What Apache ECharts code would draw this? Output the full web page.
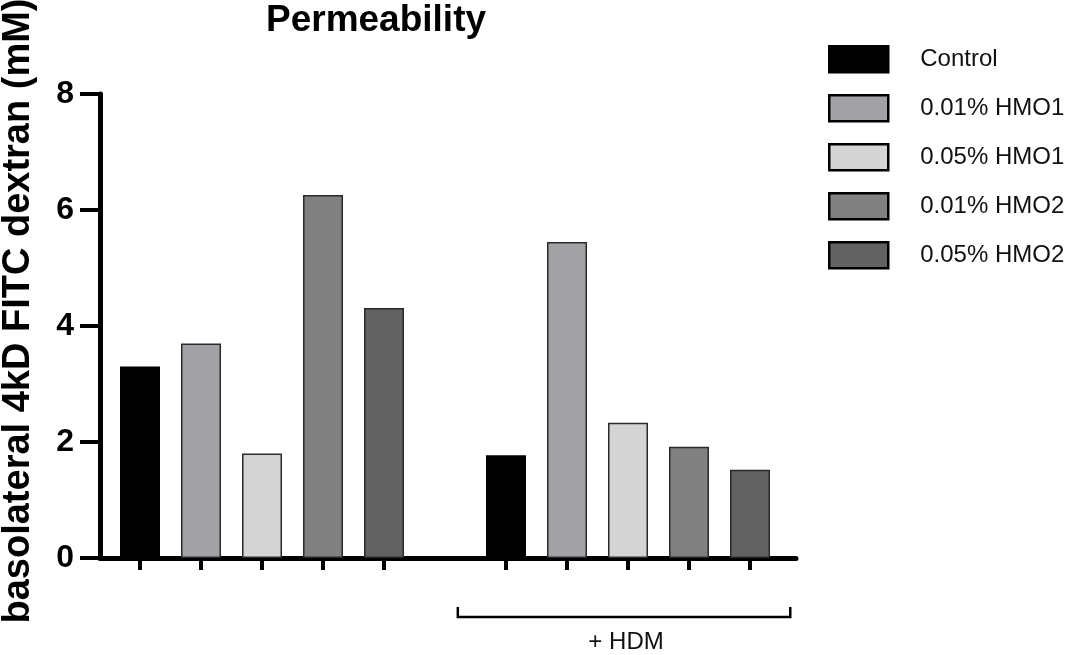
<!DOCTYPE html>
<html>
<head>
<meta charset="utf-8">
<title>Permeability</title>
<script src="https://cdn.jsdelivr.net/npm/echarts@6/dist/echarts.min.js"></script>
<style>
  html, body { margin: 0; padding: 0; background: #fff; }
  #chart { width: 1070px; height: 655px; }
</style>
</head>
<body>
<div id="chart"></div>
<script>
// Treatment groups (one series each) and their colours
const treatments = ['Control', '0.01% HMO1', '0.05% HMO1', '0.01% HMO2', '0.05% HMO2'];
const colors = ['#000000', '#a2a1a6', '#d4d4d4', '#808080', '#626262'];

// Basolateral 4kD FITC dextran (mM), without and with HDM
const withoutHDM = [3.30, 3.70, 1.80, 6.26, 4.31];
const withHDM = [1.77, 5.45, 2.33, 1.92, 1.52];

// Y axis range
const yMin = 0, yMax = 8, yStep = 2;

const titleText = 'Permeability';
const yName = 'basolateral 4kD FITC dextran (mM)';
const groupLabel = '+ HDM';

// Slot index of each bar on the x axis: first block 1..5, one empty slot, second block 7..11
const slotA = treatments.map((_, i) => i + 1);
const slotB = treatments.map((_, i) => i + 7);

const chart = echarts.init(document.getElementById('chart'));

const series = treatments.map((name, i) => ({
  name,
  type: 'bar',
  barWidth: 40,
  barGap: '-100%',
  itemStyle: {
    color: colors[i],
    borderColor: i === 0 ? '#000' : '#2a2a2a',
    borderWidth: 1.5
  },
  emphasis: { disabled: true },
  data: [[slotA[i], withoutHDM[i]], [slotB[i], withHDM[i]]]
}));

chart.setOption({
  animation: false,
  backgroundColor: '#fff',
  title: {
    text: titleText,
    left: 376,
    top: 2,
    padding: 0,
    textAlign: 'center',
    textStyle: {
      fontFamily: 'Liberation Sans, Arial, sans-serif',
      fontWeight: 'bold',
      fontSize: 37,
      color: '#000'
    }
  },
  legend: {
    orient: 'vertical',
    left: 828,
    top: 45,
    padding: 0,
    itemWidth: 59,
    itemHeight: 26,
    itemGap: 20.5,
    icon: 'rect',
    selectedMode: false,
    itemStyle: { borderColor: '#000', borderWidth: 2.5 },
    textStyle: {
      fontFamily: 'Liberation Sans, Arial, sans-serif',
      fontSize: 24,
      color: '#111',
      padding: [0, 0, 0, 27]
    },
    data: treatments
  },
  grid: { left: 100, right: 274, top: 94, bottom: 97, containLabel: false },
  xAxis: {
    type: 'value',
    min: 0.344,
    max: 11.754,
    axisLine: { show: true, onZero: false, lineStyle: { color: '#000', width: 5 } },
    axisTick: {
      show: true,
      inside: false,
      length: 12,
      customValues: slotA.concat(slotB),
      lineStyle: { color: '#000', width: 4 }
    },
    axisLabel: { show: false },
    splitLine: { show: false }
  },
  yAxis: {
    type: 'value',
    min: yMin,
    max: yMax,
    interval: yStep,
    axisLine: { show: true, lineStyle: { color: '#000', width: 5 } },
    axisTick: { show: true, length: 20, lineStyle: { color: '#000', width: 4 } },
    axisLabel: {
      margin: 26,
      fontFamily: 'Liberation Sans, Arial, sans-serif',
      fontWeight: 'bold',
      fontSize: 32,
      color: '#000'
    },
    splitLine: { show: false }
  },
  series
});

// Axis title, bracket under the HDM block and its label
const bracketFrom = chart.convertToPixel({ xAxisIndex: 0 }, slotB[0] - 0.79);
const bracketTo = chart.convertToPixel({ xAxisIndex: 0 }, slotB[slotB.length - 1] + 0.66);
const bracketY = 617;
const bracketRise = 10;

chart.setOption({
  graphic: [
    {
      type: 'text',
      x: 19,
      y: 311,
      rotation: Math.PI / 2,
      style: {
        text: yName,
        align: 'center',
        verticalAlign: 'middle',
        fontFamily: 'Liberation Sans, Arial, sans-serif',
        fontWeight: 'bold',
        fontSize: 38,
        fill: '#000'
      }
    },
    {
      type: 'polyline',
      shape: {
        points: [
          [bracketFrom, bracketY - bracketRise],
          [bracketFrom, bracketY],
          [bracketTo, bracketY],
          [bracketTo, bracketY - bracketRise]
        ]
      },
      style: { stroke: '#000', lineWidth: 2.5, fill: null }
    },
    {
      type: 'text',
      x: (bracketFrom + bracketTo) / 2 + 2,
      y: 642,
      style: {
        text: groupLabel,
        align: 'center',
        verticalAlign: 'middle',
        fontFamily: 'Liberation Sans, Arial, sans-serif',
        fontSize: 24,
        fill: '#111'
      }
    }
  ]
});
</script>
</body>
</html>
